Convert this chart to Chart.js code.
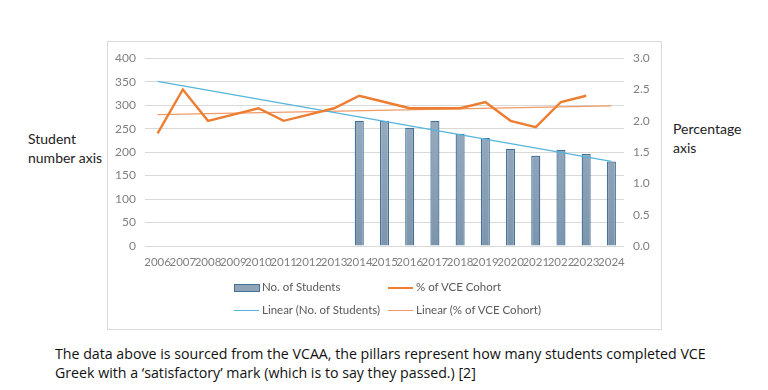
<!DOCTYPE html>
<html>
<head>
<meta charset="utf-8">
<script src="https://cdn.jsdelivr.net/npm/chart.js@4.4.1/dist/chart.umd.min.js"></script>
<style>
  body { margin: 0; background: #fff; width: 768px; height: 390px; position: relative; overflow: hidden; font-family: Lato, "Open Sans", sans-serif; }
  #wrap { position: absolute; left: 107px; top: 41px; width: 555px; height: 289px; border: 1px solid #d9d9d9; box-sizing: border-box; }
  .side { position: absolute; font-size: 14px; line-height: 19px; color: #222; }
  #legend { position: absolute; left: 0; top: 0; width: 100%; height: 100%; pointer-events: none; }
  .lg { position: absolute; font-size: 11.5px; color: #595959; white-space: nowrap; }
  .sw { position: absolute; }
  #caption { position: absolute; left: 55px; top: 344px; font-family: "Open Sans", sans-serif; font-size: 14.2px; line-height: 19px; color: #111; white-space: nowrap; }
</style>
</head>
<body>
<div class="side" style="left:28px; top:129px;">Student<br>number axis</div>
<div class="side" style="left:673px; top:119px;">Percentage<br>axis</div>
<div id="wrap">
  <canvas id="chart"></canvas>
  <div id="legend"></div>
</div>
<div id="caption">The data above is sourced from the VCAA, the pillars represent how many students completed VCE<br>Greek with a ‘satisfactory’ mark (which is to say they passed.) [2]</div>

<script>
// Chart data
const years = ['2006','2007','2008','2009','2010','2011','2012','2013','2014','2015',
               '2016','2017','2018','2019','2020','2021','2022','2023','2024'];
const students = [null, null, null, null, null, null, null, null,
                  267, 267, 252, 267, 239, 230, 207, 192, 205, 196, 180];
const cohortPct = [1.8, 2.5, 2.0, 2.1, 2.2, 2.0, 2.1, 2.2, 2.4, 2.3,
                   2.2, 2.2, 2.2, 2.3, 2.0, 1.9, 2.3, 2.4, null];
// trendlines (start and end only)
const studentsTrend = [350.6, null, null, null, null, null, null, null, null, null,
                       null, null, null, null, null, null, null, null, 180.1];
const cohortTrend = [2.1, null, null, null, null, null, null, null, null, null,
                     null, null, null, null, null, null, null, null, 2.24];
const leftTicks = [0, 400, 50];
const rightTicks = [0, 3, 0.5];

const tickColor = '#7f7f7f';
const gridColor = '#d9d9d9';

function barFill(context) {
    const area = context.chart.chartArea;
    if (!area) return '#8fa4b8';
    const g = context.chart.ctx.createLinearGradient(0, area.top, 0, area.bottom);
    g.addColorStop(0, '#a3b5c6');
    g.addColorStop(1, '#7d95ac');
    return g;
}

const chart = new Chart(document.getElementById('chart'), {
    type: 'bar',
    data: {
        labels: years,
        datasets: [
            {
                type: 'line',
                label: 'Linear (No. of Students)',
                data: studentsTrend,
                yAxisID: 'y',
                borderColor: '#55b5dc',
                borderWidth: 1.3,
                pointRadius: 0,
                spanGaps: true,
                order: 1
            },
            {
                type: 'line',
                label: 'Linear (% of VCE Cohort)',
                data: cohortTrend,
                yAxisID: 'y1',
                borderColor: '#f09a66',
                borderWidth: 1.3,
                pointRadius: 0,
                spanGaps: true,
                order: 1
            },
            {
                type: 'line',
                label: '% of VCE Cohort',
                data: cohortPct,
                yAxisID: 'y1',
                borderColor: '#ed7d31',
                borderWidth: 2.4,
                pointRadius: 0,
                tension: 0,
                order: 0
            },
            {
                label: 'No. of Students',
                data: students,
                yAxisID: 'y',
                backgroundColor: barFill,
                borderColor: '#44729b',
                borderWidth: 1.3,
                barPercentage: 0.5,
                categoryPercentage: 0.72,
                order: 2
            }
        ]
    },
    options: {
        responsive: true,
        maintainAspectRatio: false,
        animation: false,
        layout: { padding: { top: 14, left: 0, right: 0, bottom: 59 } },
        plugins: {
            legend: { display: false },
            tooltip: { enabled: false }
        },
        scales: {
            x: {
                grid: { display: false, drawTicks: false },
                border: { display: false },
                ticks: {
                    color: tickColor,
                    font: { family: 'Lato', size: 11.5 },
                    maxRotation: 0,
                    autoSkip: false,
                    padding: 9
                },
                afterFit: function(scale) { scale.height = 24; }
            },
            y: {
                position: 'left',
                min: leftTicks[0],
                max: leftTicks[1],
                grid: { color: gridColor, drawTicks: false, lineWidth: 1 },
                border: { display: false },
                ticks: {
                    stepSize: leftTicks[2],
                    color: tickColor,
                    font: { family: 'Lato', size: 12 },
                    padding: 9
                },
                afterFit: function(scale) { scale.width = 37; }
            },
            y1: {
                position: 'right',
                min: rightTicks[0],
                max: rightTicks[1],
                grid: { display: false, drawTicks: false },
                border: { display: false },
                ticks: {
                    stepSize: rightTicks[2],
                    color: tickColor,
                    font: { family: 'Lato', size: 12 },
                    padding: 9,
                    callback: function(v) { return v.toFixed(1); }
                },
                afterFit: function(scale) { scale.width = 37; }
            }
        }
    }
});

// Legend built from the chart's datasets, laid out in two columns
function buildLegend() {
    const box = document.getElementById('legend');
    const order = ['No. of Students', '% of VCE Cohort', 'Linear (No. of Students)', 'Linear (% of VCE Cohort)'];
    const cols = [126, 280];
    const rows = [246, 269];
    order.forEach((name, i) => {
        const ds = chart.data.datasets.find(d => d.label === name);
        const x = cols[i % 2];
        const y = rows[Math.floor(i / 2)];
        const sw = document.createElement('div');
        sw.className = 'sw';
        if (ds.type === 'line') {
            sw.style.cssText = `left:${x}px; top:${y - 1}px; width:25px; height:0; border-top:${ds.borderWidth + 0.5}px solid ${ds.borderColor};`;
        } else {
            sw.style.cssText = `left:${x}px; top:${y - 4}px; width:24px; height:6px; background:#8fa4b8; border:1px solid ${ds.borderColor};`;
        }
        box.appendChild(sw);
        const t = document.createElement('div');
        t.className = 'lg';
        t.textContent = ds.label;
        t.style.left = (x + 28) + 'px';
        t.style.top = (y - 8) + 'px';
        box.appendChild(t);
    });
}
buildLegend();
</script>
</body>
</html>
